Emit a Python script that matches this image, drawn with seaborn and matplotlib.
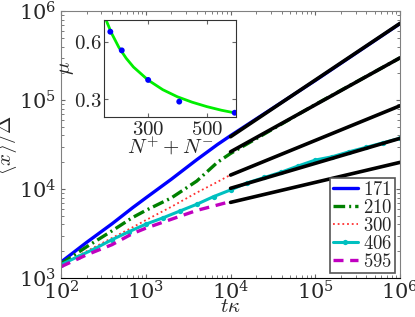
import numpy as np
import pandas as pd
import matplotlib
matplotlib.use("Agg")
import matplotlib.pyplot as plt
import seaborn as sns

# main panel: <x>/Delta vs t*kappa for five system sizes
t_main = [100, 200, 400, 700, 1000, 2000, 4000, 7000, 10000, 100000, 1000000]
x_171 = [1510, 2510, 4070, 6170, 7940, 12880, 21380, 31620, 39800, 166000, 724000]
x_210 = [1445, 2240, 3390, 4790, 5750, 7940, 12300, 19950, 25100, 89100, 298500]
t_short = [100, 200, 400, 700, 1000, 2000, 4000, 7000, 10000]
x_300 = [1410, 1995, 2820, 3715, 4470, 6310, 9120, 12020, 14450]
x_595 = [1340, 1820, 2370, 3160, 3630, 4570, 5750, 6610, 7240]

t_406 = [100, 158, 251, 398, 631, 1000, 1585, 2512, 3981, 6310, 10000,
         15850, 25120, 39810, 63100, 100000, 158500, 251200, 398100, 631000, 1000000]
x_406 = [1413, 1738, 2138, 2692, 3311, 4027, 4732, 5649, 6730, 8222, 9772,
         11750, 13490, 15490, 18200, 21180, 23070, 26240, 29440, 33110, 37150]

# power-law fits (straight black lines), t from 1e4 to 1e6
fit_t = [10000, 1000000]
fit_lines = [[38700, 728000], [26200, 298500], [14350, 86300], [10190, 37150], [7080, 19950]]

# inset: exponent mu vs N+ + N-
n_pts = [171, 210, 300, 406, 595]
mu_pts = [0.652, 0.555, 0.401, 0.288, 0.230]
n_curve = [150, 160, 175, 200, 225, 250, 300, 350, 400, 450, 500, 550, 600]
mu_curve = [0.743, 0.700, 0.645, 0.571, 0.514, 0.468, 0.400, 0.350, 0.313, 0.285, 0.262, 0.243, 0.228]

sns.set_style("ticks")
plt.rcParams["mathtext.fontset"] = "cm"
plt.rcParams["font.family"] = ["DejaVu Serif"]
plt.rcParams["xtick.direction"] = "in"
plt.rcParams["ytick.direction"] = "in"

fig = plt.figure(figsize=(4.15, 3.17), dpi=100)
ax = fig.add_axes([0.147, 0.123, 0.817, 0.842])

sns.lineplot(x=t_main, y=x_171, ax=ax, color="#0000ff", lw=2.4, label="$171$")
sns.lineplot(x=t_main, y=x_210, ax=ax, color="#008000", lw=2.4, label="$210$",
             dashes=False, linestyle=(0, (3.5, 1.2, 0.6, 1.2)))
sns.lineplot(x=t_short, y=x_300, ax=ax, color="#ff3030", lw=1.3, label="$300$",
             linestyle=(0, (1, 1.6)))
sns.lineplot(x=t_406, y=x_406, ax=ax, color="#00c0c0", lw=2.2, label="$406$",
             marker="o", markersize=3.8, markeredgewidth=0)
sns.lineplot(x=t_short, y=x_595, ax=ax, color="#c000c0", lw=2.4, label="$595$",
             linestyle=(0, (3, 2)))
for fl in fit_lines:
    sns.lineplot(x=fit_t, y=fl, ax=ax, color="black", lw=2.6)

ax.set_xscale("log")
ax.set_yscale("log")
ax.set_xlim(100, 1e6)
ax.set_ylim(1e3, 1e6)
ax.set_xticks([1e2, 1e3, 1e4, 1e5, 1e6])
ax.set_yticks([1e3, 1e4, 1e5, 1e6])
ax.tick_params(which="both", top=True, right=True, labelsize=15, length=3, color="#666666")
ax.tick_params(which="minor", length=2)
ax.tick_params(axis="x", pad=2)
ax.set_xlabel(r"$t\kappa$", fontsize=15, labelpad=-5)
ax.set_ylabel(r"$\overline{\langle x\rangle}/\Delta$", fontsize=15, labelpad=-1)
for s in ax.spines.values():
    s.set_color("#808080")
ax.spines["bottom"].set_color("black")

handles, labels = ax.get_legend_handles_labels()
leg = ax.legend(handles[:5], labels[:5], loc="lower right", fontsize=13.5,
                handlelength=1.3, handletextpad=0.3, labelspacing=0.0,
                borderpad=0.15, borderaxespad=0.25, fancybox=False, framealpha=1)
leg.get_frame().set_edgecolor("#555555")
leg.get_frame().set_linewidth(1.2)

ins = fig.add_axes([0.251, 0.631, 0.318, 0.307])
sns.lineplot(x=n_curve, y=mu_curve, ax=ins, color="#00ee00", lw=2)
sns.scatterplot(x=n_pts, y=mu_pts, ax=ins, color="#0000ff", s=18, edgecolor="none", zorder=3)
ins.set_xlim(150, 600)
ins.set_ylim(0.208, 0.715)
ins.set_xticks([300, 500])
ins.set_yticks([0.3, 0.6])
ins.set_xticklabels(["$300$", "$500$"])
ins.set_yticklabels(["$0.3$", "$0.6$"])
ins.tick_params(top=True, right=True, labelsize=15, length=3, pad=2, color="#666666")
ins.set_xlabel(r"$N^{+}+N^{-}$", fontsize=15, labelpad=-3)
ins.set_ylabel(r"$\mu$", fontsize=15, labelpad=-2)
for s in ins.spines.values():
    s.set_color("#333333")

fig.savefig("out.png", dpi=100)
